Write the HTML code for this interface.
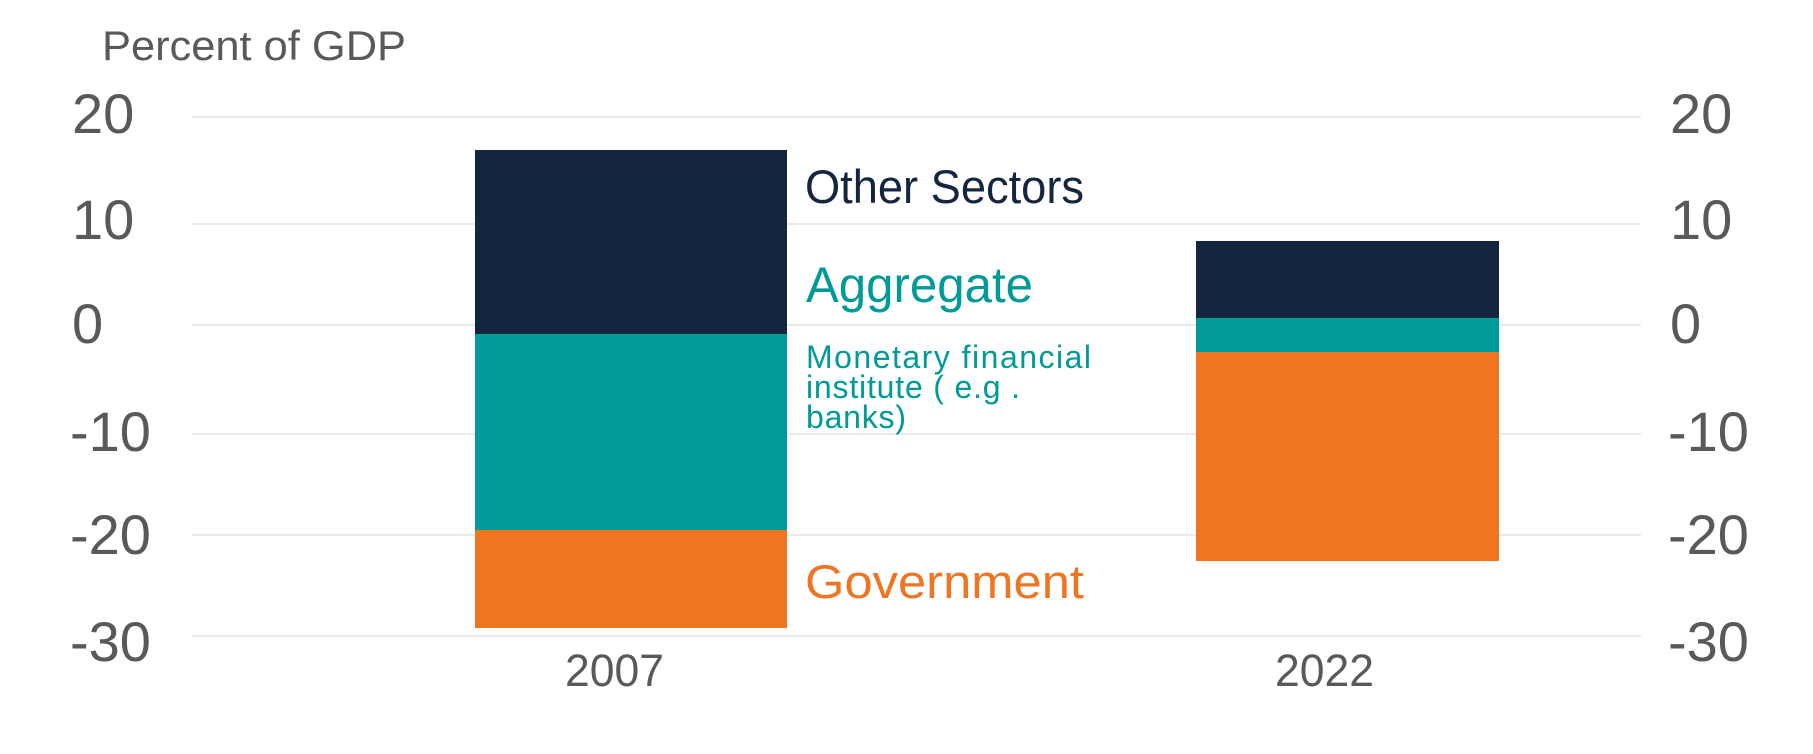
<!DOCTYPE html>
<html><head><meta charset="utf-8"><style>
html,body{margin:0;padding:0;background:#fff;}
svg{display:block;font-family:"Liberation Sans",sans-serif;}
</style></head><body>
<svg width="1813" height="754" viewBox="0 0 1813 754" xmlns="http://www.w3.org/2000/svg">
<g stroke="#e3e3e3" stroke-width="1.5">
<line x1="192" y1="117" x2="1641" y2="117"/>
<line x1="192" y1="224" x2="1641" y2="224"/>
<line x1="192" y1="325" x2="1641" y2="325"/>
<line x1="192" y1="434" x2="1641" y2="434"/>
<line x1="192" y1="535" x2="1641" y2="535"/>
<line x1="192" y1="636" x2="1641" y2="636"/>
</g>
<rect x="475" y="150" width="312" height="184" fill="#14263f"/>
<rect x="475" y="334" width="312" height="196" fill="#009a98"/>
<rect x="475" y="530" width="312" height="98" fill="#f07522"/>
<rect x="1196" y="241" width="303" height="77" fill="#14263f"/>
<rect x="1196" y="318" width="303" height="34" fill="#009a98"/>
<rect x="1196" y="352" width="303" height="209" fill="#f07522"/>
<text x="102" y="60" font-size="42" fill="#595959" textLength="304" lengthAdjust="spacingAndGlyphs">Percent of GDP</text>
<g font-size="56" fill="#595959">
<text x="72" y="133">20</text>
<text x="72" y="239">10</text>
<text x="72" y="343">0</text>
<text x="70" y="451">-10</text>
<text x="70" y="554">-20</text>
<text x="70" y="661">-30</text>
<text x="1670" y="133">20</text>
<text x="1670" y="239">10</text>
<text x="1670" y="343">0</text>
<text x="1668" y="451">-10</text>
<text x="1668" y="554">-20</text>
<text x="1668" y="661">-30</text>
</g>
<text x="565" y="686" font-size="45" fill="#595959" textLength="99" lengthAdjust="spacingAndGlyphs">2007</text>
<text x="1275" y="686" font-size="45" fill="#595959" textLength="99" lengthAdjust="spacingAndGlyphs">2022</text>
<text x="805" y="203" font-size="47" fill="#14263f" textLength="279" lengthAdjust="spacingAndGlyphs">Other Sectors</text>
<text x="806" y="302" font-size="50" fill="#009a98" textLength="227" lengthAdjust="spacingAndGlyphs">Aggregate</text>
<g font-size="32" fill="#009a98" lengthAdjust="spacingAndGlyphs">
<text x="806" y="368" textLength="285">Monetary financial</text>
<text x="806" y="398" textLength="214">institute ( e.g .</text>
<text x="806" y="428" textLength="100">banks)</text>
</g>
<text x="805" y="598" font-size="47" fill="#f07522" textLength="279" lengthAdjust="spacingAndGlyphs">Government</text>
</svg>
</body></html>
